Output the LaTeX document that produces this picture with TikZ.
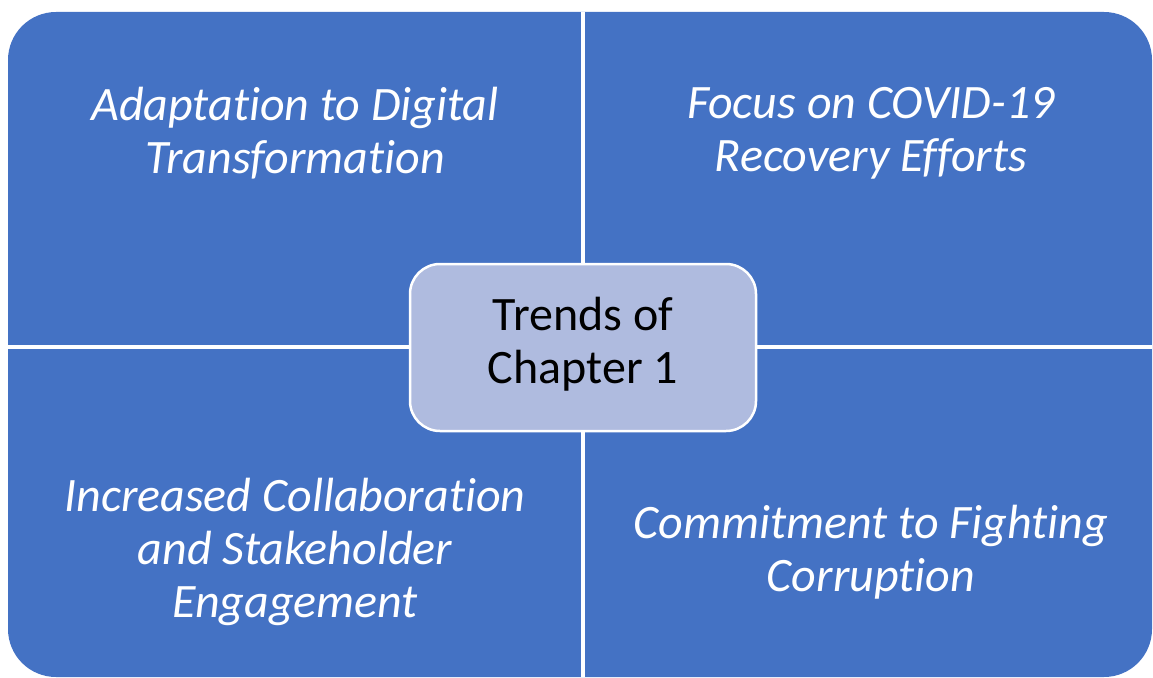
\documentclass[tikz,border=0pt]{standalone}
\usepackage{fontspec}
\setmainfont{Carlito}[Ligatures=NoCommon]
\definecolor{panelblue}{HTML}{4472C4}
\definecolor{hubfill}{HTML}{AFBBDF}
\tikzset{
  panel/.style = {text=white, align=center,
    font=\itshape\fontsize{48}{53}\selectfont},
  hub/.style   = {draw=white, line width=2.5pt, fill=hubfill,
    rounded corners=30pt, minimum width=346pt, minimum height=167pt,
    align=center, text=black, font=\fontsize{48}{53}\selectfont},
  gap/.style   = {white, line width=3.5pt}
}

\begin{document}
\begin{tikzpicture}[x=1pt,y=-1pt]
\useasboundingbox (0,0) rectangle (1153,677);
\fill[panelblue, rounded corners=48pt] (8,12) rectangle (1152,677);
% white gaps between the four panels
\coordinate (N) at (583,12);
\coordinate (S) at (583,677);
\coordinate (W) at (8,347);
\coordinate (E) at (1152,347);
\draw[gap] (N) -- (S);
\draw[gap] (W) -- (E);
\node[hub] (hub) at (583,347.5) {};
\node[text=black, align=center, font=\fontsize{48}{53}\selectfont]
  (hubtext) at (583,344.5) {Trends of\\Chapter 1};
\node[panel] (tl) at (295,133) {Adaptation to Digital\\Transformation};
\node[panel] (tr) at (871,133) {Focus on COVID-19\\Recovery Efforts};
\node[panel] (bl) at (295,552) {Increased Collaboration\\and Stakeholder\\Engagement};
\node[panel] (br) at (871,552.5) {Commitment to Fighting\\Corruption};
\end{tikzpicture}
\end{document}
